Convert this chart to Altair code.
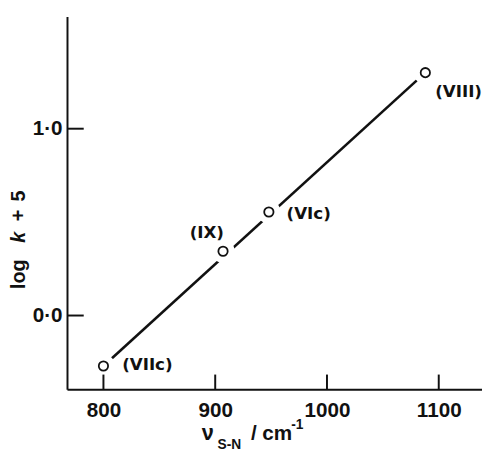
import altair as alt
import pandas as pd

# ---- data ----
point_x = [800, 907, 948, 1088]
point_y = [-0.27, 0.344, 0.554, 1.30]
point_labels = ["(VIIc)", "(IX)", "(VIc)", "(VIII)"]

fit_x = [800, 1088]
fit_y = [-0.27, 1.30]

xtick_values = [800, 900, 1000, 1100]
ytick_values = [0.0, 1.0]

pts = pd.DataFrame({"x": point_x, "y": point_y, "label": point_labels})
fit = pd.DataFrame({"x": fit_x, "y": fit_y})
xt = pd.DataFrame({"v": xtick_values})
yt = pd.DataFrame({"v": ytick_values})

W, H = 422, 379
INK = "#111111"
FONT = "Liberation Sans"

xscale = alt.Scale(domain=[767.4, 1138.7], nice=False, zero=False)
yscale = alt.Scale(domain=[-0.395, 1.6], nice=False, zero=False)

xaxis = alt.Axis(values=xtick_values, ticks=False, grid=False, domainColor=INK,
                 domainWidth=2, labelFont=FONT, labelFontSize=21, labelFontWeight="bold",
                 labelColor=INK, labelPadding=11, title="", labelFlush=False, format="d")
yaxis = alt.Axis(values=ytick_values, ticks=False, grid=False, domainColor=INK,
                 domainWidth=2, labelFont=FONT, labelFontSize=21, labelFontWeight="bold",
                 labelColor=INK, labelPadding=5, title="",
                 labelExpr="replace(format(datum.value, '.1f'), '.', '·')")

line = alt.Chart(fit).mark_line(color=INK, strokeWidth=2.6).encode(
    x=alt.X("x:Q", scale=xscale, axis=xaxis),
    y=alt.Y("y:Q", scale=yscale, axis=yaxis),
)

halo = alt.Chart(pts).mark_point(shape="circle", filled=True, fill="white",
                                 fillOpacity=1, size=560, opacity=1).encode(
    x=alt.X("x:Q", scale=xscale), y=alt.Y("y:Q", scale=yscale))

xticks = alt.Chart(xt).mark_rule(color=INK, strokeWidth=2).encode(
    x=alt.X("v:Q", scale=xscale), y=alt.value(H - 15), y2=alt.value(H))
yticks = alt.Chart(yt).mark_rule(color=INK, strokeWidth=2).encode(
    y=alt.Y("v:Q", scale=yscale), x=alt.value(0), x2=alt.value(17))

circles = alt.Chart(pts).mark_point(shape="circle", filled=False, color=INK,
                                    fill="white", size=90, strokeWidth=1.8,
                                    opacity=1).encode(
    x=alt.X("x:Q", scale=xscale), y=alt.Y("y:Q", scale=yscale))

label_style = {
    "(VIIc)": dict(align="left", dx=19, dy=-1),
    "(IX)": dict(align="right", dx=1, dy=-18),
    "(VIc)": dict(align="left", dx=18, dy=2),
    "(VIII)": dict(align="left", dx=10, dy=20),
}
label_layers = []
for lab, st in label_style.items():
    label_layers.append(
        alt.Chart(pts).transform_filter(alt.datum.label == lab).mark_text(
            font="DejaVu Sans", fontSize=17, fontWeight="bold", color=INK,
            baseline="middle", **st).encode(
            x=alt.X("x:Q", scale=xscale), y=alt.Y("y:Q", scale=yscale),
            text="label:N"))

def txt(s, x, y, size, weight="bold", style="normal", angle=0, align="left"):
    return alt.Chart(pts).transform_filter(alt.datum.label == "(VIIc)").mark_text(
        text=s, font=FONT, fontSize=size, fontWeight=weight, fontStyle=style,
        color=INK, angle=angle, align=align, baseline="alphabetic").encode(
        x=alt.value(x), y=alt.value(y))

# x-axis title: nu_{S-N} / cm^-1
xtitle = [
    txt("ν", 137, 431, 22),
    txt("S-N", 153, 440, 14),
    txt("/ cm", 187, 431, 21),
    txt("-1", 228, 419, 14),
]
# y-axis title: log k + 5 (k italic)
ytitle = [
    txt("log", -43, 277, 20, angle=270),
    txt("k", -43, 230, 20, style="italic", angle=270),
    txt("+", -43, 208, 20, angle=270),
    txt("5", -43, 188, 20, angle=270),
]

chart = alt.layer(line, halo, xticks, yticks, circles, *label_layers, *xtitle, *ytitle).properties(
    width=W, height=H,
    padding={"left": 60, "top": 5, "right": 0, "bottom": 61},
    autosize=alt.AutoSizeParams(type="none"),
    background="white",
).configure_view(strokeWidth=0)

chart.save("out.html", embed_options={"renderer": "svg", "actions": False})
